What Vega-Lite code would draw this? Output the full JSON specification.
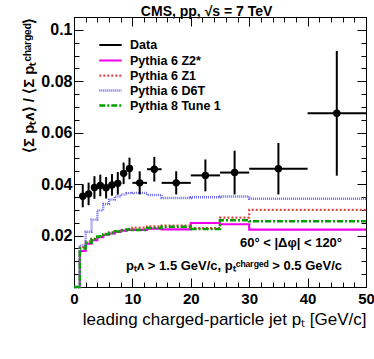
{
  "$schema": "https://vega.github.io/schema/vega-lite/v6.json",
  "width": 292,
  "height": 270,
  "autosize": {"type": "none"},
  "padding": {"left": 74, "top": 17, "right": 8, "bottom": 72},
  "background": "white",
  "config": {
    "font": "Liberation Sans",
    "view": {"stroke": "black", "strokeWidth": 1},
    "axis": {"grid": false, "domainColor": "black", "tickColor": "black", "labelColor": "black", "titleColor": "black", "domainWidth": 1, "tickWidth": 1}
  },
  "title": {"text": "CMS, pp, √s = 7 TeV", "fontSize": 14, "fontWeight": "bold", "anchor": "start", "dx": 119, "dy": 15, "offset": -1, "baseline": "bottom", "font": "Liberation Sans", "color": "black"},
  "datasets": {
    "hist": [
      {"model": "Pythia 6 Z2*", "x": 0, "y": 0},
      {"model": "Pythia 6 Z2*", "x": 1, "y": 0.0140},
      {"model": "Pythia 6 Z2*", "x": 2, "y": 0.0168},
      {"model": "Pythia 6 Z2*", "x": 3, "y": 0.0182},
      {"model": "Pythia 6 Z2*", "x": 4, "y": 0.0194},
      {"model": "Pythia 6 Z2*", "x": 5, "y": 0.0203},
      {"model": "Pythia 6 Z2*", "x": 6, "y": 0.0208},
      {"model": "Pythia 6 Z2*", "x": 7, "y": 0.0214},
      {"model": "Pythia 6 Z2*", "x": 8, "y": 0.0219},
      {"model": "Pythia 6 Z2*", "x": 9, "y": 0.0222},
      {"model": "Pythia 6 Z2*", "x": 10, "y": 0.0222},
      {"model": "Pythia 6 Z2*", "x": 12.5, "y": 0.0227},
      {"model": "Pythia 6 Z2*", "x": 15, "y": 0.0224},
      {"model": "Pythia 6 Z2*", "x": 20, "y": 0.0249},
      {"model": "Pythia 6 Z2*", "x": 25, "y": 0.0244},
      {"model": "Pythia 6 Z2*", "x": 30, "y": 0.0223},
      {"model": "Pythia 6 Z2*", "x": 50, "y": 0.0223},
      {"model": "Pythia 6 Z1", "x": 0, "y": 0},
      {"model": "Pythia 6 Z1", "x": 1, "y": 0.0155},
      {"model": "Pythia 6 Z1", "x": 2, "y": 0.0176},
      {"model": "Pythia 6 Z1", "x": 3, "y": 0.0188},
      {"model": "Pythia 6 Z1", "x": 4, "y": 0.0198},
      {"model": "Pythia 6 Z1", "x": 5, "y": 0.0207},
      {"model": "Pythia 6 Z1", "x": 6, "y": 0.0212},
      {"model": "Pythia 6 Z1", "x": 7, "y": 0.0217},
      {"model": "Pythia 6 Z1", "x": 8, "y": 0.0222},
      {"model": "Pythia 6 Z1", "x": 9, "y": 0.0226},
      {"model": "Pythia 6 Z1", "x": 10, "y": 0.0231},
      {"model": "Pythia 6 Z1", "x": 12.5, "y": 0.0236},
      {"model": "Pythia 6 Z1", "x": 15, "y": 0.0239},
      {"model": "Pythia 6 Z1", "x": 20, "y": 0.0229},
      {"model": "Pythia 6 Z1", "x": 25, "y": 0.0270},
      {"model": "Pythia 6 Z1", "x": 30, "y": 0.0300},
      {"model": "Pythia 6 Z1", "x": 50, "y": 0.0300},
      {"model": "Pythia 6 D6T", "x": 0, "y": 0},
      {"model": "Pythia 6 D6T", "x": 1, "y": 0.0162},
      {"model": "Pythia 6 D6T", "x": 2, "y": 0.0215},
      {"model": "Pythia 6 D6T", "x": 3, "y": 0.0262},
      {"model": "Pythia 6 D6T", "x": 4, "y": 0.0298},
      {"model": "Pythia 6 D6T", "x": 5, "y": 0.0323},
      {"model": "Pythia 6 D6T", "x": 6, "y": 0.0340},
      {"model": "Pythia 6 D6T", "x": 7, "y": 0.0352},
      {"model": "Pythia 6 D6T", "x": 8, "y": 0.0360},
      {"model": "Pythia 6 D6T", "x": 9, "y": 0.0365},
      {"model": "Pythia 6 D6T", "x": 10, "y": 0.0366},
      {"model": "Pythia 6 D6T", "x": 12.5, "y": 0.0358},
      {"model": "Pythia 6 D6T", "x": 15, "y": 0.0346},
      {"model": "Pythia 6 D6T", "x": 20, "y": 0.0349},
      {"model": "Pythia 6 D6T", "x": 25, "y": 0.0352},
      {"model": "Pythia 6 D6T", "x": 30, "y": 0.0343},
      {"model": "Pythia 6 D6T", "x": 50, "y": 0.0343},
      {"model": "Pythia 8 Tune 1", "x": 0, "y": 0},
      {"model": "Pythia 8 Tune 1", "x": 1, "y": 0.0150},
      {"model": "Pythia 8 Tune 1", "x": 2, "y": 0.0172},
      {"model": "Pythia 8 Tune 1", "x": 3, "y": 0.0186},
      {"model": "Pythia 8 Tune 1", "x": 4, "y": 0.0196},
      {"model": "Pythia 8 Tune 1", "x": 5, "y": 0.0205},
      {"model": "Pythia 8 Tune 1", "x": 6, "y": 0.0210},
      {"model": "Pythia 8 Tune 1", "x": 7, "y": 0.0216},
      {"model": "Pythia 8 Tune 1", "x": 8, "y": 0.0221},
      {"model": "Pythia 8 Tune 1", "x": 9, "y": 0.0224},
      {"model": "Pythia 8 Tune 1", "x": 10, "y": 0.0222},
      {"model": "Pythia 8 Tune 1", "x": 12.5, "y": 0.0229},
      {"model": "Pythia 8 Tune 1", "x": 15, "y": 0.0234},
      {"model": "Pythia 8 Tune 1", "x": 20, "y": 0.0226},
      {"model": "Pythia 8 Tune 1", "x": 25, "y": 0.0260},
      {"model": "Pythia 8 Tune 1", "x": 30, "y": 0.0256},
      {"model": "Pythia 8 Tune 1", "x": 50, "y": 0.0256}
    ],
    "pts": [
      {"x": 1.5, "xlo": 1, "xhi": 2, "y": 0.0353, "ylo": 0.0310, "yhi": 0.0397},
      {"x": 2.5, "xlo": 2, "xhi": 3, "y": 0.0362, "ylo": 0.0318, "yhi": 0.0406},
      {"x": 3.5, "xlo": 3, "xhi": 4, "y": 0.0387, "ylo": 0.0343, "yhi": 0.0431},
      {"x": 4.5, "xlo": 4, "xhi": 5, "y": 0.0395, "ylo": 0.0353, "yhi": 0.0437},
      {"x": 5.5, "xlo": 5, "xhi": 6, "y": 0.0386, "ylo": 0.0344, "yhi": 0.0428},
      {"x": 6.5, "xlo": 6, "xhi": 7, "y": 0.0397, "ylo": 0.0355, "yhi": 0.0439},
      {"x": 7.5, "xlo": 7, "xhi": 8, "y": 0.0403, "ylo": 0.0359, "yhi": 0.0447},
      {"x": 8.5, "xlo": 8, "xhi": 9, "y": 0.0442, "ylo": 0.0400, "yhi": 0.0484},
      {"x": 9.5, "xlo": 9, "xhi": 10, "y": 0.0461, "ylo": 0.0419, "yhi": 0.0503},
      {"x": 11.25, "xlo": 10, "xhi": 12.5, "y": 0.0405, "ylo": 0.0360, "yhi": 0.0450},
      {"x": 13.75, "xlo": 12.5, "xhi": 15, "y": 0.0458, "ylo": 0.0410, "yhi": 0.0506},
      {"x": 17.5, "xlo": 15, "xhi": 20, "y": 0.0405, "ylo": 0.0360, "yhi": 0.0450},
      {"x": 22.5, "xlo": 20, "xhi": 25, "y": 0.0434, "ylo": 0.0372, "yhi": 0.0496},
      {"x": 27.5, "xlo": 25, "xhi": 30, "y": 0.0445, "ylo": 0.0360, "yhi": 0.0530},
      {"x": 35, "xlo": 30, "xhi": 40, "y": 0.0460, "ylo": 0.0360, "yhi": 0.0560},
      {"x": 45, "xlo": 40, "xhi": 50, "y": 0.0676, "ylo": 0.0433, "yhi": 0.0918}
    ]
  },
  "layer": [
    {
      "data": {"name": "hist"},
      "mark": {"type": "line", "interpolate": "step-after", "clip": false},
      "encoding": {
        "x": {"field": "x", "type": "quantitative", "scale": {"domain": [0, 50], "nice": false, "zero": false},
          "axis": {"orient": "bottom", "values": [0, 10, 20, 30, 40, 50], "tickSize": -9, "labelPadding": 13, "labelFontSize": 15, "labelFontWeight": "bold", "labelFlush": false,
            "title": "leading charged-particle jet pₜ [GeV/c]", "titleFontSize": 17, "titleFontWeight": "normal", "titleAnchor": "end", "titlePadding": 5}},
        "y": {"field": "y", "type": "quantitative", "scale": {"domain": [0, 0.105], "nice": false, "zero": false},
          "axis": {"orient": "left", "values": [0.02, 0.04, 0.06, 0.08, 0.1], "format": "~g", "tickSize": -9, "labelPadding": 11, "labelFontSize": 16, "labelFontWeight": "bold",
            "title": "⟨Σ pₜᴧ⟩ / ⟨Σ pₜᶜʰᵃʳᵍᵉᵈ⟩", "titleFontSize": 15, "titleFontWeight": "bold", "titleAnchor": "end", "titlePadding": 4}},
        "color": {"field": "model", "type": "nominal",
          "scale": {"domain": ["Data", "Pythia 6 Z2*", "Pythia 6 Z1", "Pythia 6 D6T", "Pythia 8 Tune 1"], "range": ["black", "#ee00ee", "#e04848", "#6a6af0", "#00a000"]},
          "legend": {"title": null, "orient": "none", "legendX": 28, "legendY": 20, "symbolType": "M-1.6,0H1.6", "symbolSize": 196, "symbolStrokeWidth": 2, "symbolFillColor": "transparent", "labelFontSize": 12.5, "labelFontWeight": "bold", "labelOffset": 11, "rowPadding": 0, "padding": 0, "labelColor": "black"}},
        "strokeDash": {"field": "model", "type": "nominal",
          "scale": {"domain": ["Data", "Pythia 6 Z2*", "Pythia 6 Z1", "Pythia 6 D6T", "Pythia 8 Tune 1"], "range": [[1, 0], [1, 0], [2, 2], [1, 1], [6, 2, 2, 2]]},
          "legend": {"title": null, "orient": "none", "legendX": 28, "legendY": 20, "symbolType": "M-1.6,0H1.6", "symbolSize": 196, "symbolStrokeWidth": 2, "symbolFillColor": "transparent", "labelFontSize": 12.5, "labelFontWeight": "bold", "labelOffset": 11, "rowPadding": 0, "padding": 0, "labelColor": "black"}},
        "strokeWidth": {"field": "model", "type": "nominal",
          "scale": {"domain": ["Data", "Pythia 6 Z2*", "Pythia 6 Z1", "Pythia 6 D6T", "Pythia 8 Tune 1"], "range": [2, 2.5, 1.5, 1.5, 1.5]}, "legend": null},
        "order": {"field": "x", "type": "quantitative"}
      }
    },
    {
      "data": {"name": "pts"},
      "mark": {"type": "rule", "color": "black", "strokeWidth": 2},
      "encoding": {
        "x": {"field": "x", "type": "quantitative", "scale": {"domain": [0, 50], "nice": false, "zero": false},
          "axis": {"orient": "top", "values": [0, 10, 20, 30, 40, 50], "tickSize": -9, "labels": false, "title": null}},
        "y": {"field": "ylo", "type": "quantitative", "scale": {"domain": [0, 0.105], "nice": false, "zero": false},
          "axis": {"orient": "right", "values": [0.02, 0.04, 0.06, 0.08, 0.1], "tickSize": -9, "labels": false, "title": null}},
        "y2": {"field": "yhi"}
      }
    },
    {
      "data": {"name": "pts"},
      "mark": {"type": "rule", "color": "black", "strokeWidth": 2},
      "encoding": {
        "x": {"field": "xlo", "type": "quantitative", "scale": {"domain": [0, 50], "nice": false, "zero": false},
          "axis": {"orient": "bottom", "values": [2, 4, 6, 8, 12, 14, 16, 18, 22, 24, 26, 28, 32, 34, 36, 38, 42, 44, 46, 48], "tickSize": -5, "labels": false, "domain": false, "title": null}},
        "x2": {"field": "xhi"},
        "y": {"field": "y", "type": "quantitative", "scale": {"domain": [0, 0.105], "nice": false, "zero": false},
          "axis": {"orient": "left", "values": [0.005, 0.01, 0.015, 0.025, 0.03, 0.035, 0.045, 0.05, 0.055, 0.065, 0.07, 0.075, 0.085, 0.09, 0.095], "tickSize": -5, "labels": false, "domain": false, "title": null}}
      }
    },
    {
      "data": {"name": "pts"},
      "mark": {"type": "point", "filled": true, "color": "black", "opacity": 1, "size": 55},
      "encoding": {
        "x": {"field": "x", "type": "quantitative", "scale": {"domain": [0, 50], "nice": false, "zero": false},
          "axis": {"orient": "top", "values": [2, 4, 6, 8, 12, 14, 16, 18, 22, 24, 26, 28, 32, 34, 36, 38, 42, 44, 46, 48], "tickSize": -5, "labels": false, "domain": false, "title": null}},
        "y": {"field": "y", "type": "quantitative", "scale": {"domain": [0, 0.105], "nice": false, "zero": false},
          "axis": {"orient": "right", "values": [0.005, 0.01, 0.015, 0.025, 0.03, 0.035, 0.045, 0.05, 0.055, 0.065, 0.07, 0.075, 0.085, 0.09, 0.095], "tickSize": -5, "labels": false, "domain": false, "title": null}}
      }
    },
    {
      "data": {"values": [{}]},
      "mark": {"type": "text", "align": "right", "baseline": "middle", "fontSize": 13, "fontWeight": "bold", "color": "black", "font": "Liberation Sans"},
      "encoding": {
        "x": {"datum": 45.9, "type": "quantitative", "scale": {"domain": [0, 50], "nice": false, "zero": false}, "axis": null},
        "y": {"datum": 0.0171, "type": "quantitative", "scale": {"domain": [0, 0.105], "nice": false, "zero": false}, "axis": null},
        "text": {"value": "60° < |Δφ| < 120°"}
      }
    },
    {
      "data": {"values": [{}]},
      "mark": {"type": "text", "align": "right", "baseline": "middle", "fontSize": 13, "fontWeight": "bold", "color": "black", "font": "Liberation Sans"},
      "encoding": {
        "x": {"datum": 45.9, "type": "quantitative", "scale": {"domain": [0, 50], "nice": false, "zero": false}, "axis": null},
        "y": {"datum": 0.0082, "type": "quantitative", "scale": {"domain": [0, 0.105], "nice": false, "zero": false}, "axis": null},
        "text": {"value": "pₜᴧ > 1.5 GeV/c, pₜᶜʰᵃʳᵍᵉᵈ > 0.5 GeV/c"}
      }
    }
  ],
  "resolve": {"axis": {"x": "independent", "y": "independent"}}
}
